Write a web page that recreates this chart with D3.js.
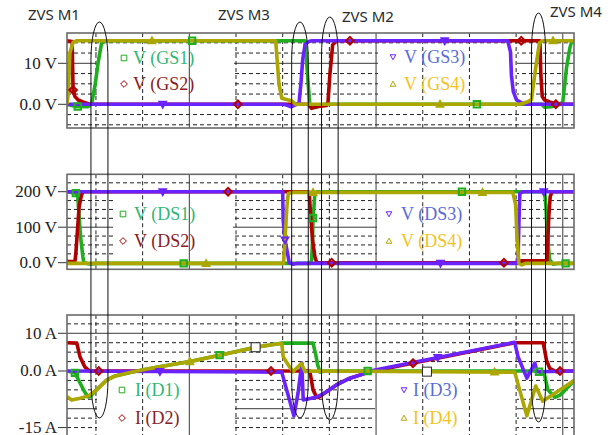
<!DOCTYPE html>
<html>
<head>
<meta charset="utf-8">
<script src="https://cdn.jsdelivr.net/npm/d3@7"></script>
<style>
  body { margin: 0; background: #fff; }
</style>
</head>
<body>
<script>
// time axis (arbitrary units, grid every 100)
const timeGrid = d3.range(0, 1001, 100);
const timeMajor = [200, 600, 1000];

// gate-source voltages [t, V]
const vgs1 = [[-62,0],[-45,-0.5],[-17,-0.6],[-9,0.2],[-2,4.6],[5,10.4],[12,14.9],[20,15.5],[448,15.5],[454,5.9],[458,0],[469,-0.7],[480,-0.4],[491,0],[955,0],[961,-0.7],[975,-0.6],[994,0],[1000,0.6],[1008,8.9],[1015,13.7],[1019,15.3],[1026,15.5]];
const vgs2 = [[-62,15.5],[-51,15.3],[-50,9.6],[-49,3.5],[-45,1.9],[-38,1.05],[-28,0.56],[-13,0],[455,0],[462,-1.0],[473,-0.6],[494,-0.3],[497,0.4],[501,7.1],[505,12],[507,14.5],[515,15.5],[951,15.5],[953,7.1],[956,1.9],[961,1.05],[972,0.56],[986,0],[1026,0]];
const vgs3 = [[-62,0],[403,0],[411,-0.3],[418,-0.6],[435,0.3],[439,5],[443,11],[448,14.6],[456,15.3],[463,15.5],[882,15.5],[888,12.8],[890,7.1],[894,3.1],[901,1.05],[911,0.4],[922,0],[1026,0]];
const vgs4 = [[-62,0],[-59,3],[-56,12.5],[-49,15.1],[-41,15.5],[385,15.5],[392,5],[398,1.5],[420,0.8],[428,0],[908,0],[925,0.6],[933,1.2],[942,9],[950,15],[957,15.5],[1026,15.5]];

// drain-source voltages [t, V]
const vds1 = [[-62,200],[-43,196],[-39,186],[-36,130],[-33,73],[-28,17],[-26,0],[-13,-4],[0,-2],[460,-2],[462,8],[464,64],[465,126],[467,158],[469,195],[473,200],[961,200],[964,158],[966,101],[969,45],[972,8],[979,-4],[990,-2],[1026,-2]];
const vds2 = [[-62,3],[-45,3],[-43,27],[-40,84],[-36,158],[-31,191],[-27,200],[455,200],[457,195],[460,130],[464,64],[469,17],[473,0],[904,0],[910,5],[966,5],[968,64],[970,130],[973,186],[977,200],[1026,200]];
const vds3 = [[-62,200],[400,200],[401,120],[405,64],[409,36],[414,0],[422,-4],[430,-2],[904,-2],[906,112],[908,195],[915,200],[1026,200]];
const vds4 = [[-62,-2],[402,-2],[402,3],[405,64],[409,158],[412,195],[422,198],[893,198],[899,162],[902,68],[906,-2],[912,-6],[920,-2],[1026,-2]];

// diode currents [t, A]
const id1 = [[-62,0],[-45,-0.5],[-34,-3.2],[-24,-5.6],[-17,-6.9],[-13,-6.8],[1.5,-5.0],[23,-2.4],[41,-1.3],[80,-0.2],[130,1.0],[201,2.5],[265,4.2],[342,6.3],[394,7.3],[398,7.4],[465,7.4],[471,4.2],[475,1.6],[480,-0.3],[490,0],[945,0],[951,-0.3],[961,-1.1],[968,-5],[983,-7],[994,-6.4],[1004,-5.2],[1026,-2.4]];
const id2 = [[-62,7.5],[-41,7.4],[-34,3.7],[-24,1.1],[-13,-0.1],[-5,0],[458,0],[462,-2.8],[465,-5],[473,-7],[477,-7],[494,-5.5],[515,-3.7],[544,-1.9],[580,-0.5],[587,-0.2],[897,7.5],[958,7.5],[961,5.6],[965,2.9],[972,0.7],[986,-0.2],[995,0],[1026,0]];
const id3 = [[-62,0],[398,-0.3],[424,-11.9],[433,-5.8],[441,2.1],[444,-7.7],[473,-6.9],[494,-5.5],[515,-3.7],[544,-1.9],[580,-0.5],[587,0],[897,7.6],[904,3.8],[923,-1.9],[940,2.1],[945,-0.2],[1026,0]];
const id4 = [[-62,-6.8],[-52,-7.7],[-34,-7.2],[-16,-6.6],[1.5,-5.0],[23,-2.4],[41,-1.3],[80,-0.2],[130,1.0],[201,2.5],[265,4.2],[342,6.3],[394,7.3],[398,7.3],[401,3.8],[412,1.6],[422,-0.2],[440,2.0],[448,-0.2],[460,0],[897,-0.3],[923,-11.9],[942,-4.0],[957,-8.0],[1026,-2.4]];

// symbol marker times along each trace
const gs1Marks = [-39, 206, 816];
const gs2Marks = [-49, 304, 544, 911, 985];
const gs3Marks = [143, 747];
const gs4Marks = [120, 737, 979];
const ds1Marks = [-43, 188, 465, 784, 1006];
const ds2Marks = [283, 505, 874];
const ds3Marks = [143, 405, 738, 959];
const ds4Marks = [236, 465, 828];
const id1Marks = [-45, 265, 582, 949];
const id2Marks = [6, 375, 679, 994];
const id3Marks = [137, 732];
const id4Marks = [201, 854];
const cursorMarks = [342, 709];

// axes
const gsTickValues = [10, 0];
const gsTickLabels = ["10 V", "0.0 V"];
const dsTickValues = [200, 100, 0];
const dsTickLabels = ["200 V", "100 V", "0.0 V"];
const idTickValues = [10, 0, -15];
const idTickLabels = ["10 A", "0.0 A", "-15 A"];

const gsLegend = ["V (GS1)", "V (GS2)", "V (GS3)", "V (GS4)"];
const dsLegend = ["V (DS1)", "V (DS2)", "V (DS3)", "V (DS4)"];
const idLegend = ["I (D1)", "I (D2)", "I (D3)", "I (D4)"];

const zvsLabels = ["ZVS M1", "ZVS M3", "ZVS M2", "ZVS M4"];
const zvsTimes = [7.5, 437, 501, 948];

const colors = ["#1fae1f", "#b00000", "#6a22ff", "#aca700"];
const textColors = ["#2fb874", "#8c1c24", "#5a6bd8", "#f3c21c"];
const shapes = ["square", "diamond", "tridown", "tri"];

const width = 612, height = 435;
const x = d3.scaleLinear().domain([-62, 1024]).range([67, 574]);

const svg = d3.select("body").append("svg")
  .attr("width", width)
  .attr("height", height)
  .style("background", "#fff");

function shapePath(shape, s) {
  if (shape === "square") return `M${-s},${-s}H${s}V${s}H${-s}Z`;
  if (shape === "diamond") return `M0,${-s * 1.2}L${s * 1.2},0L0,${s * 1.2}L${-s * 1.2},0Z`;
  if (shape === "tri") return `M0,${-s}L${s},${s * 0.8}L${-s},${s * 0.8}Z`;
  return `M0,${s}L${s},${-s * 0.8}L${-s},${-s * 0.8}Z`;
}

function valueAt(data, t) {
  for (let i = 1; i < data.length; i++) {
    const [t0, v0] = data[i - 1], [t1, v1] = data[i];
    if (t >= t0 && t <= t1) {
      if (t1 === t0) return v0;
      return v0 + (v1 - v0) * (t - t0) / (t1 - t0);
    }
  }
  return data[data.length - 1][1];
}

const panels = [
  {
    id: "gs", top: 33, bottom: 128, domain: [-5.78, 17.39],
    grid: d3.range(-5, 15.1, 2.5), major: [0, 10],
    tickValues: gsTickValues, tickLabels: gsTickLabels,
    series: [vgs1, vgs2, vgs3, vgs4],
    marks: [gs1Marks, gs2Marks, gs3Marks, gs4Marks],
    legend: gsLegend,
    boxes: [[97, 45, 234, 99], [378, 45, 517, 99]],
    legendPos: [{mx: 124, tx: 133, rows: [64, 90]}, {mx: 393, tx: 404, rows: [63, 90]}]
  },
  {
    id: "ds", top: 174.3, bottom: 269.3, domain: [-18.6, 249],
    grid: d3.range(0, 226, 25), major: [0, 100, 200],
    tickValues: dsTickValues, tickLabels: dsTickLabels,
    series: [vds1, vds2, vds3, vds4],
    marks: [ds1Marks, ds2Marks, ds3Marks, ds4Marks],
    legend: dsLegend,
    boxes: [[113, 188, 233, 258], [377, 188, 513, 258]],
    legendPos: [{mx: 123, tx: 134, rows: [220, 247]}, {mx: 389, tx: 401, rows: [220, 247]}]
  },
  {
    id: "id", top: 315, bottom: 440, domain: [-18.3, 14.85],
    grid: d3.range(-15, 12.6, 2.5), major: [-10, 0, 10],
    tickValues: idTickValues, tickLabels: idTickLabels,
    series: [id1, id2, id3, id4],
    marks: [id1Marks, id2Marks, id3Marks, id4Marks],
    cursor: cursorMarks,
    legend: idLegend,
    boxes: [[97, 375, 235, 440], [375, 375, 517, 440]],
    legendPos: [{mx: 122, tx: 135, rows: [396, 424]}, {mx: 404, tx: 413, rows: [396, 424]}]
  }
];

const [x0, x1] = x.range();

panels.forEach(p => {
  const y = d3.scaleLinear().domain(p.domain).range([p.bottom, p.top]);
  const g = svg.append("g");

  g.append("clipPath").attr("id", "clip-" + p.id)
    .append("rect")
    .attr("x", x0).attr("y", p.top)
    .attr("width", x1 - x0).attr("height", p.bottom - p.top);

  // horizontal grid
  g.append("g").selectAll("line")
    .data(p.grid)
    .join("line")
    .attr("x1", x0).attr("x2", x1)
    .attr("y1", d => y(d)).attr("y2", d => y(d))
    .attr("stroke", d => p.major.includes(d) ? "#3a3a3a" : "#222")
    .attr("stroke-width", 1)
    .attr("stroke-dasharray", d => p.major.includes(d) ? null : "4,3");

  // legend backgrounds hide the horizontal grid
  g.append("g").selectAll("rect")
    .data(p.boxes)
    .join("rect")
    .attr("x", d => d[0]).attr("y", d => d[1])
    .attr("width", d => d[2] - d[0]).attr("height", d => d[3] - d[1])
    .attr("fill", "#fff");

  // vertical grid
  g.append("g").selectAll("line")
    .data(timeGrid)
    .join("line")
    .attr("x1", d => x(d)).attr("x2", d => x(d))
    .attr("y1", p.top).attr("y2", p.bottom)
    .attr("stroke", d => timeMajor.includes(d) ? "#3a3a3a" : "#222")
    .attr("stroke-width", 1)
    .attr("stroke-dasharray", d => timeMajor.includes(d) ? null : "4,3");

  // y ticks
  g.append("g").selectAll("line")
    .data(p.tickValues)
    .join("line")
    .attr("x1", 58).attr("x2", x0)
    .attr("y1", d => y(d)).attr("y2", d => y(d))
    .attr("stroke", "#333");

  g.append("g").selectAll("text")
    .data(p.tickValues)
    .join("text")
    .attr("x", 57)
    .attr("y", d => y(d))
    .attr("text-anchor", "end")
    .attr("dominant-baseline", "central")
    .attr("fill", "#222")
    .style("font-family", "'Liberation Serif', 'Times New Roman', serif")
    .style("font-size", "17px")
    .text((d, i) => p.tickLabels[i]);

  // traces
  const line = d3.line().x(d => x(d[0])).y(d => y(d[1]));
  const traces = g.append("g").attr("clip-path", `url(#clip-${p.id})`);
  p.series.forEach((data, i) => {
    traces.append("path")
      .attr("d", line(data))
      .attr("fill", "none")
      .attr("stroke", colors[i])
      .attr("stroke-width", 3.6)
      .attr("stroke-linejoin", "round");
  });

  p.series.forEach((data, i) => {
    traces.append("g").selectAll("path")
      .data(p.marks[i])
      .join("path")
      .attr("transform", t => `translate(${x(t)},${y(valueAt(data, t))})`)
      .attr("d", shapePath(shapes[i], 3.2))
      .attr("fill", "none")
      .attr("stroke", colors[i])
      .attr("stroke-width", 2);
  });

  if (p.cursor) {
    traces.append("g").selectAll("rect")
      .data(p.cursor)
      .join("rect")
      .attr("x", t => x(t) - 4.5)
      .attr("y", t => y(valueAt(id4, t)) - 4.5)
      .attr("width", 9).attr("height", 9)
      .attr("fill", "#fff")
      .attr("stroke", "#222")
      .attr("stroke-width", 1);
  }

  // frame
  g.append("rect")
    .attr("x", x0).attr("y", p.top)
    .attr("width", x1 - x0).attr("height", p.bottom - p.top)
    .attr("fill", "none")
    .attr("stroke", "#6a6a6a")
    .attr("stroke-width", 1.6);

  // legends
  p.legendPos.forEach((pos, k) => {
    pos.rows.forEach((by, r) => {
      const i = k * 2 + r;
      g.append("path")
        .attr("transform", `translate(${pos.mx},${by - 6})`)
        .attr("d", shapePath(shapes[i], 2.8))
        .attr("fill", "none")
        .attr("stroke", colors[i])
        .attr("stroke-width", 1);
      g.append("text")
        .attr("x", pos.tx)
        .attr("y", by)
        .attr("fill", textColors[i])
        .style("font-family", "'Liberation Serif', 'Times New Roman', serif")
        .style("font-size", "18px")
        .text(p.legend[i]);
    });
  });
});

// ZVS annotation ellipses
const zvsExtents = [[22, 418], [22, 418], [17, 420], [13, 422]];
const zvsHalfW = [8.5, 8.3, 8.3, 7];
svg.append("g").selectAll("rect")
  .data(zvsTimes)
  .join("rect")
  .attr("x", (t, i) => x(t) - zvsHalfW[i])
  .attr("y", (t, i) => zvsExtents[i][0])
  .attr("width", (t, i) => zvsHalfW[i] * 2)
  .attr("height", (t, i) => zvsExtents[i][1] - zvsExtents[i][0])
  .attr("rx", (t, i) => zvsHalfW[i])
  .attr("ry", 38)
  .attr("fill", "none")
  .attr("stroke", "#111")
  .attr("stroke-width", 1);

const zvsLabelPos = [[28, 20], [218, 20], [342, 22], [550, 17]];
svg.append("g").selectAll("text")
  .data(zvsLabels)
  .join("text")
  .attr("x", (d, i) => zvsLabelPos[i][0])
  .attr("y", (d, i) => zvsLabelPos[i][1])
  .attr("fill", "#2a2a2a")
  .style("font-family", "'Noto Sans', 'Open Sans', sans-serif")
  .style("font-size", "15px")
  .text(d => d);
</script>
</body>
</html>
